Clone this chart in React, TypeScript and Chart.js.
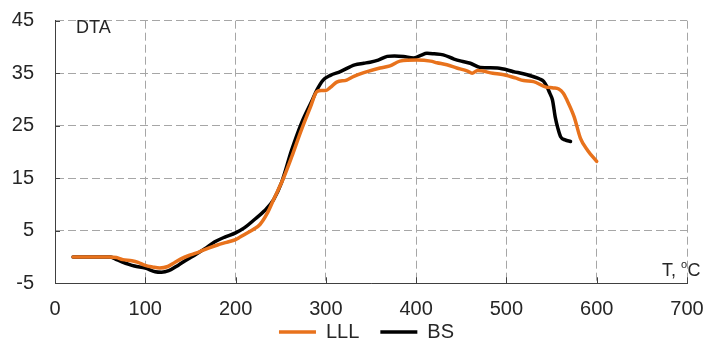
import React, { useEffect, useRef } from "react";
import { Chart, registerables } from "chart.js";

Chart.register(...registerables);

// Temperature (°C) and DTA values, series LLL (orange)
const lllT = [20, 40, 60, 68, 75, 85, 92, 100, 108, 116, 125, 133, 140, 150, 160, 170, 180, 190, 200, 205, 210, 220, 227, 235, 242, 253, 262, 272, 283, 290, 295, 300, 305, 312, 323, 331, 342, 360, 371, 382, 401, 416, 423, 434, 445, 457, 462, 468, 485, 497, 510, 519, 530, 543, 552, 558, 563, 567, 575, 582, 590, 600];
const lllV = [0, 0, 0, -0.1, -0.5, -0.7, -1.0, -1.6, -1.9, -2.1, -1.8, -1.0, -0.3, 0.4, 1.0, 1.7, 2.3, 2.8, 3.3, 3.8, 4.3, 5.3, 6.2, 8.3, 10.9, 15.0, 19.0, 23.8, 28.6, 31.5, 31.7, 31.7, 32.3, 33.3, 33.7, 34.4, 35.1, 36.0, 36.4, 37.3, 37.5, 37.3, 37.0, 36.6, 36.0, 35.4, 35.0, 35.5, 35.0, 34.7, 34.1, 33.6, 33.4, 32.4, 32.2, 32.0, 31.2, 29.9, 26.7, 22.6, 20.3, 18.2];

// Series BS (black)
const bsT = [20, 40, 61, 67, 74, 88, 100, 111, 118, 126, 137, 146, 155, 166, 177, 188, 200, 210, 220, 232, 242, 251, 262, 273, 285, 290, 297, 305, 316, 332, 342, 349, 358, 368, 376, 386, 397, 405, 412, 420, 430, 442, 450, 460, 471, 490, 508, 523, 537, 541, 545, 548, 551, 554, 557, 560, 565, 571];
const bsV = [0, 0, 0, -0.4, -0.9, -1.7, -2.1, -2.8, -2.9, -2.6, -1.5, -0.5, 0.4, 1.6, 2.9, 3.8, 4.6, 5.6, 7.0, 8.8, 10.9, 14.2, 20.3, 25.5, 29.9, 31.8, 33.7, 34.6, 35.3, 36.6, 36.9, 37.1, 37.5, 38.2, 38.3, 38.2, 37.9, 38.4, 38.8, 38.7, 38.5, 37.7, 37.3, 36.9, 36.1, 36.0, 35.3, 34.7, 33.9, 33.5, 32.4, 31.2, 29.9, 26.7, 24.5, 22.9, 22.3, 22.0];

const seriesNames = ["LLL", "BS"];
const seriesColors = ["#E8721C", "#000000"];
const xTicks = [0, 100, 200, 300, 400, 500, 600, 700];
const yTicks = [-5, 5, 15, 25, 35, 45];
const yTitle = "DTA";
const xTitleMain = "T, ";
const xTitleSup = "o";
const xTitleUnit = "C";

const FONT = '"Liberation Sans", Arial, sans-serif';

const innerTicks = {
  id: "innerTicks",
  beforeDatasetsDraw(chart: any) {
    const { ctx, chartArea, scales } = chart;
    ctx.save();
    ctx.strokeStyle = "#404040";
    ctx.lineWidth = 1;
    ctx.beginPath();
    for (const v of yTicks) {
      const y = Math.round(scales.y.getPixelForValue(v)) + 0.5;
      ctx.moveTo(chartArea.left, y);
      ctx.lineTo(chartArea.left + 5, y);
    }
    for (const v of xTicks) {
      const x = Math.round(scales.x.getPixelForValue(v)) + 0.5;
      ctx.moveTo(x, chartArea.bottom);
      ctx.lineTo(x, chartArea.bottom - 6);
    }
    ctx.stroke();
    ctx.restore();
  },
};

// move the legend up/right to sit under the plot as in the reference
const legendShift = {
  id: "legendShift",
  afterLayout(chart: any) {
    const lg = chart.legend;
    if (!lg) return;
    lg.top -= 17;
    lg.bottom -= 17;
    lg.left += 23;
    lg.right += 23;
  },
};

const titles = {
  id: "titles",
  afterDraw(chart: any) {
    const { ctx, chartArea } = chart;
    ctx.save();
    ctx.fillStyle = "#262626";
    ctx.textBaseline = "alphabetic";
    ctx.textAlign = "left";
    ctx.font = `18px ${FONT}`;
    ctx.fillText(yTitle, chartArea.left + 21, chartArea.top + 12.5);
    const bx = chartArea.right - 25;
    const by = chartArea.bottom - 7.5;
    ctx.fillText(xTitleMain, bx, by);
    const w1 = ctx.measureText(xTitleMain).width;
    ctx.font = `11px ${FONT}`;
    ctx.fillText(xTitleSup, bx + w1, by - 8);
    const w2 = ctx.measureText(xTitleSup).width;
    ctx.font = `18px ${FONT}`;
    ctx.fillText(xTitleUnit, bx + w1 + w2 + 0.5, by);
    ctx.restore();
  },
};

export default function App() {
  const ref = useRef<HTMLCanvasElement | null>(null);

  useEffect(() => {
    if (!ref.current) return;
    const mk = (t: number[], v: number[]) => t.map((x, i) => ({ x, y: v[i] }));
    const chart = new Chart(ref.current, {
      type: "line",
      data: {
        datasets: [
          {
            label: seriesNames[0],
            data: mk(lllT, lllV),
            borderColor: seriesColors[0],
            backgroundColor: seriesColors[0],
            borderWidth: 3.5,
            pointRadius: 0,
            pointStyle: "line",
            cubicInterpolationMode: "monotone",
            borderCapStyle: "round",
            borderJoinStyle: "round",
          },
          {
            label: seriesNames[1],
            data: mk(bsT, bsV),
            borderColor: seriesColors[1],
            backgroundColor: seriesColors[1],
            borderWidth: 3.5,
            pointRadius: 0,
            pointStyle: "line",
            cubicInterpolationMode: "monotone",
            borderCapStyle: "round",
            borderJoinStyle: "round",
          },
        ],
      },
      options: {
        responsive: false,
        animation: false,
        devicePixelRatio: 1,
        layout: { padding: { left: 0, right: 20, top: 20.7, bottom: 0 } },
        plugins: {
          tooltip: { enabled: false },
          legend: {
            display: true,
            position: "bottom",
            labels: {
              usePointStyle: true,
              pointStyle: "line",
              pointStyleWidth: 37,
              boxWidth: 37,
              padding: 21,
              color: "#262626",
              font: { family: FONT, size: 20 },
            },
          },
        },
        scales: {
          x: {
            type: "linear",
            min: 0,
            max: 700,
            afterBuildTicks: (s: any) => {
              s.ticks = xTicks.map((v) => ({ value: v }));
            },
            afterFit: (s: any) => {
              s.height = 34.7;
            },
            ticks: {
              padding: 0,
              color: "#262626",
              font: { family: FONT, size: 20 },
              maxRotation: 0,
              autoSkip: false,
            },
            grid: {
              color: "#a6a6a6",
              lineWidth: 1,
              drawTicks: true,
              tickLength: 14,
              tickColor: "rgba(0,0,0,0)",
            },
            border: { display: true, color: "#404040", width: 1, dash: [8, 4] },
          },
          y: {
            type: "linear",
            min: -5,
            max: 45,
            afterBuildTicks: (s: any) => {
              s.ticks = yTicks.map((v) => ({ value: v }));
            },
            afterFit: (s: any) => {
              s.width = 55;
            },
            ticks: {
              padding: 0,
              color: "#262626",
              font: { family: FONT, size: 20 },
              autoSkip: false,
            },
            grid: {
              color: "#a6a6a6",
              lineWidth: 1,
              drawTicks: true,
              tickLength: 21,
              tickColor: "rgba(0,0,0,0)",
            },
            border: { display: true, color: "#404040", width: 1, dash: [8, 4] },
          },
        },
      },
      plugins: [legendShift, innerTicks, titles],
    } as any);
    return () => chart.destroy();
  }, []);

  return (
    <div
      style={{
        position: "fixed",
        left: 0,
        top: 0,
        width: 707,
        height: 342,
        overflow: "hidden",
        background: "#fff",
      }}
    >
      <canvas ref={ref} width={707} height={369} style={{ display: "block" }} />
    </div>
  );
}
